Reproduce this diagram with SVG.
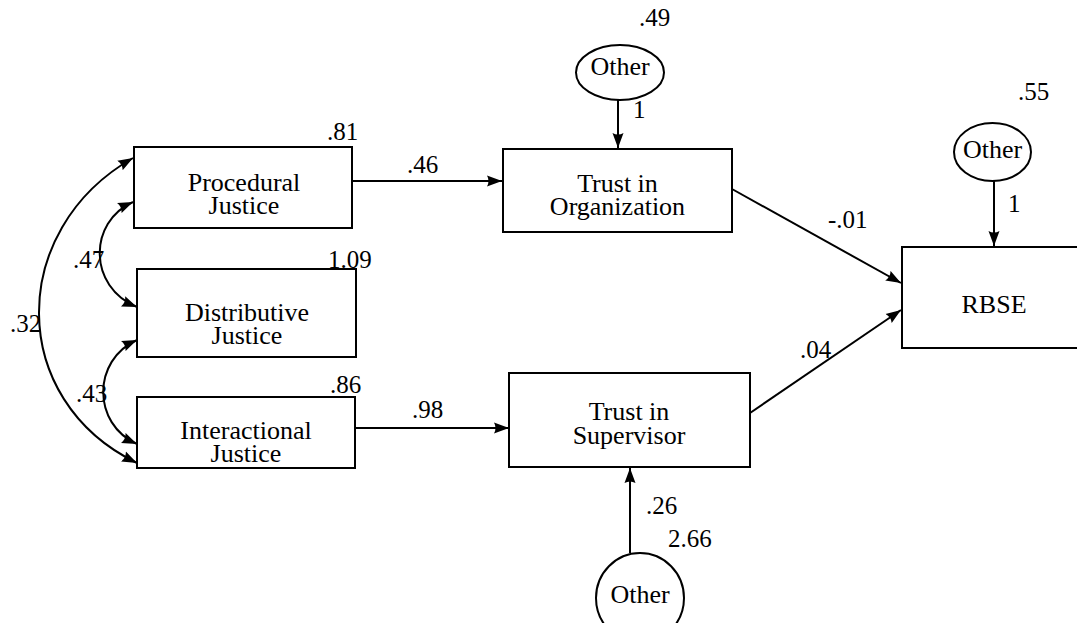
<svg xmlns="http://www.w3.org/2000/svg" width="1077" height="623" viewBox="0 0 1077 623">
<style>
.box{fill:#fff;stroke:#000;stroke-width:2}
.ell{fill:#fff;stroke:#000;stroke-width:2}
.t{text-anchor:middle;font-size:26px}
.c{fill:none;stroke:#000;stroke-width:2}
</style>
<defs>
<marker id="ah" markerUnits="userSpaceOnUse" markerWidth="16" markerHeight="12" refX="15" refY="6" orient="auto-start-reverse" viewBox="0 0 16 12">
<path d="M0,0.5 L15,6 L0,11.5 Q3,6 0,0.5 z" fill="#000"/>
</marker>
</defs>
<rect width="1077" height="623" fill="#fff"/>
<g id="connectors">
<path class="c" d="M352,181 L502,181" marker-end="url(#ah)"/>
<path class="c" d="M355,428 L509,428" marker-end="url(#ah)"/>
<path class="c" d="M732,189 L901,283" marker-end="url(#ah)"/>
<path class="c" d="M750,413 L901,310" marker-end="url(#ah)"/>
<path class="c" d="M618,100 L618,148" marker-end="url(#ah)"/>
<path class="c" d="M994,181 L994,246" marker-end="url(#ah)"/>
<path class="c" d="M630,553 L630,468" marker-end="url(#ah)"/>
<path class="c" d="M133,158 C7,230 7,400 137,463" marker-start="url(#ah)" marker-end="url(#ah)"/>
<path class="c" d="M133,202 C88,222 88,287 137,307" marker-start="url(#ah)" marker-end="url(#ah)"/>
<path class="c" d="M137,340 C92,360 92,424 137,444" marker-start="url(#ah)" marker-end="url(#ah)"/>
</g>
<g font-family="Times New Roman, Liberation Serif, DejaVu Serif, serif" font-size="25" fill="#000">
<g id="procedural">
<rect class="box" x="134" y="147" width="218" height="81"/>
<text class="t" x="244" y="191">Procedural</text>
<text class="t" x="244" y="214">Justice</text>
</g>
<g id="distributive">
<rect class="box" x="137" y="269" width="219" height="88"/>
<text class="t" x="247" y="321">Distributive</text>
<text class="t" x="247" y="344">Justice</text>
</g>
<g id="interactional">
<rect class="box" x="137" y="397" width="218" height="71"/>
<text class="t" x="246" y="439">Interactional</text>
<text class="t" x="246" y="462">Justice</text>
</g>
<g id="trust-org">
<rect class="box" x="503" y="149" width="229" height="83"/>
<text class="t" x="617.5" y="192">Trust in</text>
<text class="t" x="617.5" y="215">Organization</text>
</g>
<g id="trust-sup">
<rect class="box" x="509" y="373" width="241" height="94"/>
<text class="t" x="629" y="420">Trust in</text>
<text class="t" x="629" y="444">Supervisor</text>
</g>
<g id="rbse">
<rect class="box" x="902" y="247" width="180" height="101"/>
<text class="t" x="994" y="313">RBSE</text>
</g>
<g id="other-org">
<ellipse class="ell" cx="620" cy="72.5" rx="44" ry="27.5"/>
<text class="t" x="620" y="75">Other</text>
</g>
<g id="other-rbse">
<ellipse class="ell" cx="992.5" cy="152" rx="38.5" ry="29"/>
<text class="t" x="992.5" y="158">Other</text>
</g>
<g id="other-sup">
<ellipse class="ell" cx="640" cy="598" rx="44" ry="45"/>
<text class="t" x="640" y="603">Other</text>
</g>
<g id="labels">
<text x="327" y="140">.81</text>
<text x="328" y="268">1.09</text>
<text x="330" y="393">.86</text>
<text x="407" y="173">.46</text>
<text x="412" y="418">.98</text>
<text x="828" y="228">-.01</text>
<text x="800" y="358">.04</text>
<text x="639" y="26">.49</text>
<text x="633" y="118">1</text>
<text x="1018" y="100">.55</text>
<text x="1008" y="212">1</text>
<text x="646" y="514">.26</text>
<text x="668" y="547">2.66</text>
<text x="73" y="268">.47</text>
<text x="76" y="402">.43</text>
<text x="10" y="332">.32</text>
</g>
</g>
</svg>
